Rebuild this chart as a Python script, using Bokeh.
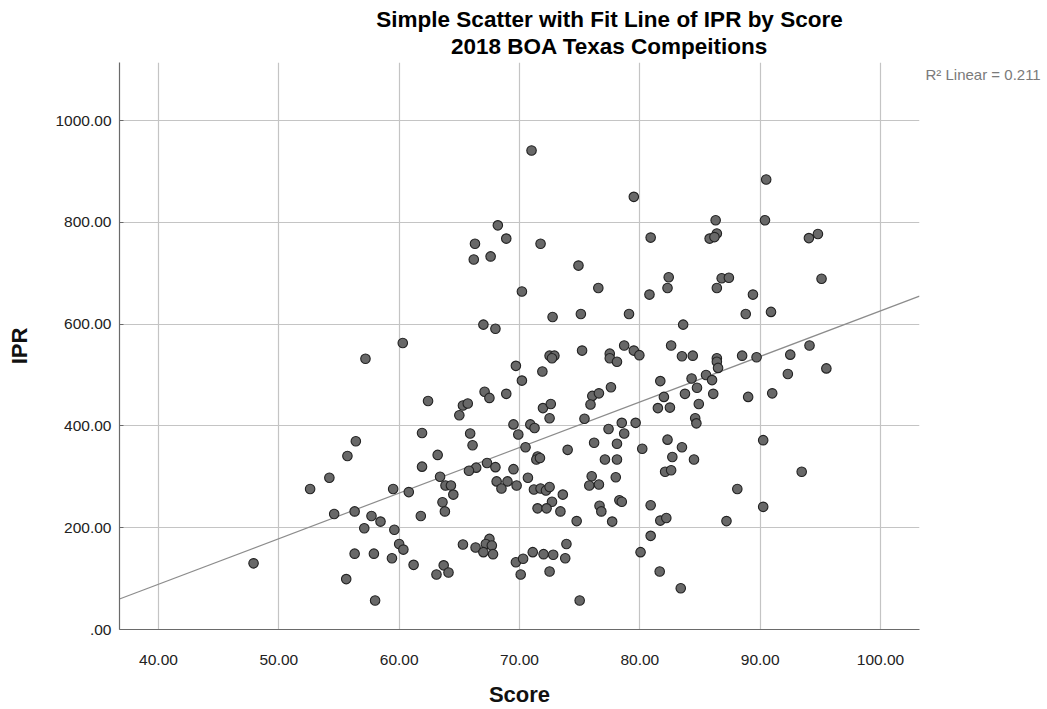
from bokeh.plotting import figure
from bokeh.models import Range1d, Label, FixedTicker, CustomJSTickFormatter, ColumnDataSource
from bokeh.embed import file_html
from bokeh.resources import INLINE

score = [57.2, 60.3, 71.0, 68.2, 66.3, 68.9, 71.75, 66.2, 67.6, 74.9, 70.2, 72.75, 75.1, 67.0, 68.0, 75.2,
         72.5, 72.9, 72.7, 69.7, 71.9, 79.5, 86.3, 86.4, 85.8, 86.2, 80.9, 76.55, 82.4, 82.3, 80.8, 86.8,
         87.4, 86.4, 89.4, 79.1, 88.8, 83.6, 78.7, 77.5, 77.5, 78.1, 79.5, 79.96, 82.6, 83.5, 84.4, 86.4,
         86.4, 86.5, 88.5, 89.7, 84.3, 85.5, 90.5, 90.4, 94.05, 94.8, 95.1, 90.9, 94.1, 92.5, 95.5, 92.3,
         47.9, 56.4, 55.7, 54.2, 52.6, 59.5, 60.8, 54.6, 56.3, 57.7, 58.45, 57.1, 59.6, 60.0, 60.35, 56.3,
         57.9, 59.4, 61.2, 55.6, 58.0, 70.2, 62.4, 67.1, 67.5, 65.3, 65.7, 65.0, 68.9, 71.95, 72.6, 72.5,
         75.4, 69.5, 70.9, 71.25, 69.9, 61.9, 65.9, 66.1, 70.5, 74.0, 71.5, 71.4, 71.7, 63.2, 61.9, 67.3,
         66.4, 65.8, 68.0, 69.5, 63.4, 63.85, 64.3, 64.5, 68.1, 69.0, 68.5, 69.76, 70.7, 71.2, 71.75, 72.2,
         72.5, 73.6, 72.7, 63.6, 63.8, 61.8, 71.5, 72.25, 73.4, 74.75, 65.3, 66.35, 67.5, 67.2, 67.7, 67.0,
         67.8, 69.7, 70.3, 71.1, 72.0, 72.8, 73.9, 73.8, 70.1, 72.5, 63.7, 63.1, 64.1, 75.0, 81.7, 86.0,
         77.6, 76.05, 76.6, 75.9, 82.0, 81.5, 82.5, 83.75, 84.75, 84.9, 86.1, 89.0, 84.6, 84.7, 78.5, 79.65,
         77.4, 78.7, 76.2, 78.1, 80.2, 82.3, 83.5, 82.7, 84.5, 77.1, 78.1, 82.1, 82.6, 76.0, 75.8, 76.6,
         78.0, 88.1, 78.3, 78.5, 76.65, 76.8, 80.9, 77.7, 81.7, 82.2, 87.2, 80.9, 80.06, 81.65, 83.4, 91.0,
         90.25, 93.45, 90.25]
ipr = [532, 563, 941, 794, 758, 768, 758, 727, 733, 715, 664, 614, 620, 599, 591, 548,
       538, 538, 533, 518, 507, 850, 804, 778, 768, 771, 770, 671, 692, 671, 658, 690,
       691, 671, 658, 620, 620, 599, 558, 542, 533, 526, 548, 539, 558, 537, 538, 533,
       526, 514, 538, 535, 493, 500, 884, 804, 769, 777, 689, 624, 558, 540, 513, 502,
       130, 370, 341, 298, 276, 276, 270, 227, 232, 223, 212, 199, 196, 168, 157, 149,
       149, 140, 127, 99, 57, 489, 449, 467, 455, 440, 444, 421, 463, 435, 443, 415,
       414, 403, 403, 396, 383, 386, 385, 362, 358, 353, 340, 334, 337, 343, 320, 327,
       318, 312, 319, 315, 300, 283, 283, 265, 291, 291, 277, 283, 298, 275, 277, 273,
       280, 265, 251, 250, 232, 223, 238, 238, 232, 213, 167, 161, 178, 168, 165, 152,
       148, 132, 139, 152, 148, 147, 168, 140, 108, 114, 126, 108, 112, 57, 488, 490,
       476, 459, 464, 442, 457, 435, 436, 463, 475, 443, 463, 457, 415, 405, 406, 406,
       394, 385, 367, 365, 355, 373, 358, 339, 334, 334, 334, 310, 313, 301, 283, 285,
       299, 276, 254, 251, 243, 232, 244, 212, 214, 219, 213, 184, 152, 114, 81, 464,
       372, 310, 241]

# linear fit as shown in the reference (IPR = intercept + slope * Score)
fit_slope = 8.95
fit_intercept = -269.0

x_ticks = [40, 50, 60, 70, 80, 90, 100]
y_ticks = [0, 200, 400, 600, 800, 1000]
title_lines = ["Simple Scatter with Fit Line of IPR by Score", "2018 BOA Texas Compeitions"]
r2_text = "R\u00b2 Linear = 0.211"

X_MIN, X_MAX = 36.76, 103.24
Y_MIN, Y_MAX = 0, 1114

p = figure(width=1047, height=709, output_backend="svg", toolbar_location=None,
           x_range=Range1d(X_MIN, X_MAX), y_range=Range1d(Y_MIN, Y_MAX),
           min_border_left=119, min_border_right=128, min_border_top=62, min_border_bottom=72)
p.outline_line_color = None
p.background_fill_color = "white"
p.border_fill_color = "white"

FONT = "Liberation Sans"

# axes
p.xaxis.ticker = FixedTicker(ticks=x_ticks)
p.yaxis.ticker = FixedTicker(ticks=y_ticks)
p.xaxis.formatter = CustomJSTickFormatter(code="return tick.toFixed(2);")
p.yaxis.formatter = CustomJSTickFormatter(code="return tick == 0 ? '.00' : tick.toFixed(2);")
for ax in (p.xaxis, p.yaxis):
    ax.axis_line_color = "#6a6a6a"
    ax.axis_line_width = 1.2
    ax.major_label_text_font = FONT
    ax.major_label_text_font_size = "15.5px"
    ax.major_label_text_color = "#222222"
    ax.minor_tick_line_color = None
    ax.axis_label_text_font = FONT
    ax.axis_label_text_font_style = "bold"
    ax.axis_label_text_font_size = "22px"
    ax.axis_label_text_color = "#111111"
p.xaxis.major_tick_line_color = None
p.xaxis.major_label_standoff = 19
p.xaxis.axis_label = "Score"
p.xaxis.axis_label_standoff = 14
p.yaxis.major_tick_in = 4
p.yaxis.major_tick_out = 0
p.yaxis.major_tick_line_color = "#6a6a6a"
p.yaxis.major_label_standoff = 8
p.yaxis.axis_label = "IPR"
p.yaxis.axis_label_standoff = 20

p.xgrid.ticker = FixedTicker(ticks=x_ticks)
p.ygrid.ticker = FixedTicker(ticks=y_ticks[1:])
p.grid.grid_line_color = "#c4c4c4"
p.grid.grid_line_width = 1.2

fx = [X_MIN, X_MAX]
fy = [fit_intercept + fit_slope * v for v in fx]
p.line(fx, fy, line_color="#8c8c8c", line_width=1.2)

src = ColumnDataSource(dict(x=score, y=ipr))
p.scatter("x", "y", source=src, size=9.5, fill_color="#686868", line_color="#222222", line_width=1.1)

# titles (above panel, screen units relative to panel) and R2 label (right panel)
p.add_layout(Label(x=490, y=16, x_units="screen", y_units="screen", text=title_lines[1],
                   text_align="center", text_baseline="middle", text_font=FONT,
                   text_font_style="bold", text_font_size="22.5px", text_color="#000000"), "above")
p.add_layout(Label(x=490, y=18, x_units="screen", y_units="screen", text=title_lines[0],
                   text_align="center", text_baseline="middle", text_font=FONT,
                   text_font_style="bold", text_font_size="22.5px", text_color="#000000"), "above")
p.add_layout(Label(x=6, y=555, x_units="screen", y_units="screen", text=r2_text,
                   text_align="left", text_baseline="middle", text_font=FONT,
                   text_font_size="15px", text_color="#7a7a7a"), "right")

open("out.html", "w").write(file_html(p, INLINE))
